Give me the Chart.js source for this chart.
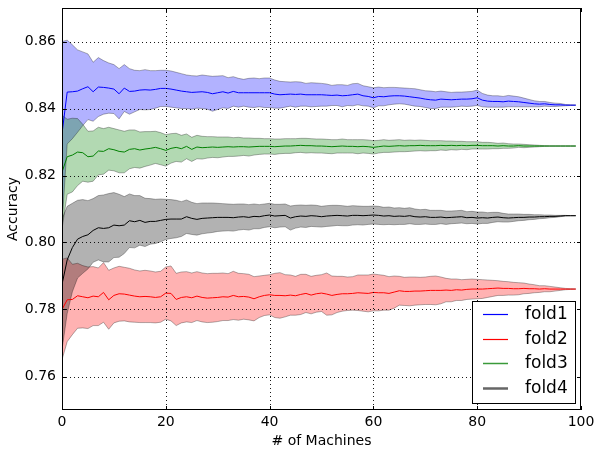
<!DOCTYPE html>
<html>
<head>
<meta charset="utf-8">
<script src="https://cdn.jsdelivr.net/npm/chart.js@4"></script>
<style>
html,body{margin:0;padding:0;background:#fff;}
#wrap{width:596px;height:451px;position:relative;}
</style>
</head>
<body>
<div id="wrap"><canvas id="c" width="596" height="451"></canvas></div>
<script>
// ---------- data ----------
const machines = Array.from({length: 100}, (_, i) => i);
const xTickValues = [0, 20, 40, 60, 80, 100];
const yTickValues = [0.76, 0.78, 0.80, 0.82, 0.84, 0.86];
const seriesNames = ['fold1', 'fold2', 'fold3', 'fold4'];

const fold1Mean = [
0.8325,0.8449,0.8450,0.8452,0.8459,0.8465,0.8450,0.8464,0.8463,0.8461,
0.8458,0.8444,0.8461,0.8451,0.8452,0.8455,0.8456,0.8455,0.8457,0.8460,
0.8460,0.8458,0.8455,0.8452,0.8450,0.8448,0.8449,0.8450,0.8448,0.8444,
0.8447,0.8450,0.8446,0.8451,0.8447,0.8447,0.8447,0.8447,0.8447,0.8447,
0.8447,0.8443,0.8441,0.8442,0.8443,0.8442,0.8443,0.8441,0.8441,0.8441,
0.8441,0.8440,0.8439,0.8440,0.8438,0.8439,0.8441,0.8443,0.8438,0.8436,
0.8432,0.8436,0.8435,0.8437,0.8438,0.8438,0.8437,0.8435,0.8433,0.8431,
0.8428,0.8426,0.8425,0.8428,0.8427,0.8426,0.8427,0.8428,0.8428,0.8429,
0.8432,0.8425,0.8422,0.8421,0.8421,0.8420,0.8422,0.8421,0.8420,0.8418,
0.8416,0.8414,0.8413,0.8414,0.8412,0.8411,0.8411,0.8410,0.8410,0.8410];
const fold1Std = [
0.0275,0.0155,0.0140,0.0123,0.0110,0.0098,0.0088,0.0088,0.0080,0.0075,
0.0073,0.0075,0.0070,0.0068,0.0062,0.0058,0.0060,0.0058,0.0056,0.0054,
0.0054,0.0054,0.0053,0.0052,0.0050,0.0050,0.0048,0.0050,0.0050,0.0052,
0.0050,0.0048,0.0046,0.0044,0.0043,0.0040,0.0043,0.0044,0.0042,0.0044,
0.0044,0.0042,0.0040,0.0038,0.0036,0.0038,0.0036,0.0034,0.0036,0.0035,
0.0034,0.0033,0.0030,0.0031,0.0033,0.0030,0.0033,0.0032,0.0030,0.0029,
0.0030,0.0028,0.0027,0.0026,0.0025,0.0024,0.0024,0.0025,0.0026,0.0025,
0.0025,0.0026,0.0025,0.0024,0.0023,0.0022,0.0022,0.0021,0.0022,0.0022,
0.0023,0.0020,0.0018,0.0017,0.0017,0.0016,0.0017,0.0016,0.0015,0.0013,
0.0011,0.0009,0.0008,0.0007,0.0006,0.0005,0.0004,0.0002,0.0001,0.0000];

const fold2Mean = [
0.7800,0.7829,0.7830,0.7841,0.7838,0.7835,0.7840,0.7838,0.7851,0.7829,
0.7842,0.7847,0.7846,0.7843,0.7840,0.7838,0.7839,0.7838,0.7836,0.7838,
0.7849,0.7848,0.7830,0.7836,0.7838,0.7835,0.7840,0.7836,0.7834,0.7835,
0.7836,0.7838,0.7837,0.7842,0.7838,0.7839,0.7837,0.7832,0.7838,0.7842,
0.7844,0.7842,0.7842,0.7841,0.7843,0.7841,0.7845,0.7848,0.7843,0.7847,
0.7849,0.7846,0.7842,0.7845,0.7847,0.7847,0.7848,0.7850,0.7849,0.7848,
0.7851,0.7850,0.7850,0.7848,0.7852,0.7856,0.7854,0.7854,0.7855,0.7855,
0.7856,0.7857,0.7857,0.7857,0.7858,0.7857,0.7859,0.7858,0.7860,0.7861,
0.7861,0.7861,0.7862,0.7863,0.7864,0.7863,0.7863,0.7862,0.7862,0.7863,
0.7862,0.7862,0.7861,0.7862,0.7861,0.7861,0.7861,0.7861,0.7861,0.7861];
const fold2Std = [
0.0150,0.0125,0.0105,0.0097,0.0093,0.0092,0.0088,0.0086,0.0089,0.0088,
0.0082,0.0082,0.0080,0.0080,0.0078,0.0077,0.0078,0.0077,0.0076,0.0076,
0.0078,0.0082,0.0078,0.0076,0.0075,0.0074,0.0073,0.0073,0.0073,0.0073,
0.0072,0.0071,0.0070,0.0072,0.0070,0.0068,0.0068,0.0066,0.0062,0.0060,
0.0060,0.0066,0.0068,0.0063,0.0060,0.0058,0.0060,0.0057,0.0056,0.0055,
0.0055,0.0063,0.0058,0.0054,0.0052,0.0050,0.0050,0.0053,0.0054,0.0055,
0.0055,0.0054,0.0052,0.0050,0.0048,0.0043,0.0042,0.0043,0.0042,0.0041,
0.0041,0.0042,0.0043,0.0040,0.0035,0.0034,0.0032,0.0031,0.0030,0.0030,
0.0029,0.0028,0.0026,0.0024,0.0022,0.0021,0.0020,0.0019,0.0018,0.0016,
0.0014,0.0012,0.0010,0.0009,0.0008,0.0006,0.0004,0.0002,0.0001,0.0000];

const fold3Mean = [
0.8210,0.8256,0.8261,0.8270,0.8268,0.8256,0.8258,0.8273,0.8272,0.8280,
0.8277,0.8272,0.8270,0.8278,0.8280,0.8276,0.8279,0.8281,0.8284,0.8280,
0.8275,0.8281,0.8284,0.8280,0.8287,0.8278,0.8285,0.8283,0.8284,0.8285,
0.8284,0.8285,0.8286,0.8285,0.8286,0.8286,0.8285,0.8286,0.8287,0.8287,
0.8287,0.8286,0.8287,0.8288,0.8288,0.8289,0.8290,0.8289,0.8289,0.8288,
0.8288,0.8287,0.8286,0.8287,0.8288,0.8287,0.8287,0.8286,0.8287,0.8286,
0.8284,0.8286,0.8288,0.8287,0.8288,0.8289,0.8288,0.8289,0.8289,0.8290,
0.8289,0.8289,0.8289,0.8290,0.8289,0.8290,0.8289,0.8290,0.8289,0.8290,
0.8290,0.8289,0.8289,0.8289,0.8288,0.8289,0.8288,0.8288,0.8289,0.8288,
0.8288,0.8288,0.8288,0.8288,0.8288,0.8288,0.8288,0.8288,0.8288,0.8288];
const fold3Std = [
0.0170,0.0112,0.0110,0.0100,0.0085,0.0076,0.0075,0.0071,0.0068,0.0064,
0.0063,0.0064,0.0062,0.0058,0.0056,0.0054,0.0052,0.0050,0.0048,0.0048,
0.0047,0.0044,0.0042,0.0040,0.0037,0.0036,0.0035,0.0034,0.0032,0.0031,
0.0031,0.0030,0.0029,0.0028,0.0028,0.0026,0.0027,0.0025,0.0024,0.0023,
0.0023,0.0023,0.0022,0.0022,0.0022,0.0021,0.0021,0.0022,0.0021,0.0021,
0.0021,0.0021,0.0021,0.0020,0.0021,0.0020,0.0020,0.0021,0.0020,0.0020,
0.0020,0.0019,0.0019,0.0018,0.0018,0.0018,0.0017,0.0017,0.0016,0.0016,
0.0016,0.0015,0.0015,0.0014,0.0014,0.0013,0.0013,0.0012,0.0012,0.0011,
0.0011,0.0010,0.0010,0.0009,0.0008,0.0008,0.0007,0.0006,0.0005,0.0005,
0.0004,0.0003,0.0002,0.0001,0.0000,0.0000,0.0000,0.0000,0.0000,0.0000];

const fold4Mean = [
0.7875,0.7948,0.7985,0.8010,0.8018,0.8023,0.8036,0.8044,0.8042,0.8044,
0.8052,0.8050,0.8052,0.8065,0.8062,0.8066,0.8060,0.8063,0.8063,0.8066,
0.8069,0.8070,0.8070,0.8070,0.8077,0.8072,0.8069,0.8072,0.8073,0.8074,
0.8075,0.8075,0.8075,0.8074,0.8076,0.8077,0.8075,0.8078,0.8077,0.8080,
0.8082,0.8079,0.8080,0.8081,0.8073,0.8077,0.8079,0.8078,0.8080,0.8079,
0.8077,0.8079,0.8080,0.8081,0.8080,0.8079,0.8081,0.8081,0.8080,0.8081,
0.8082,0.8081,0.8079,0.8080,0.8078,0.8079,0.8078,0.8080,0.8077,0.8076,
0.8077,0.8075,0.8075,0.8076,0.8074,0.8075,0.8076,0.8077,0.8074,0.8075,
0.8073,0.8074,0.8073,0.8075,0.8076,0.8074,0.8073,0.8074,0.8075,0.8075,
0.8076,0.8076,0.8077,0.8077,0.8078,0.8078,0.8079,0.8080,0.8080,0.8080];
const fold4Std = [
0.0195,0.0160,0.0132,0.0116,0.0110,0.0102,0.0095,0.0096,0.0100,0.0102,
0.0097,0.0094,0.0085,0.0080,0.0078,0.0074,0.0072,0.0068,0.0066,0.0064,
0.0060,0.0058,0.0056,0.0052,0.0050,0.0048,0.0047,0.0046,0.0045,0.0044,
0.0042,0.0041,0.0040,0.0040,0.0039,0.0038,0.0038,0.0037,0.0036,0.0035,
0.0035,0.0035,0.0034,0.0034,0.0036,0.0034,0.0033,0.0033,0.0032,0.0032,
0.0031,0.0031,0.0031,0.0030,0.0030,0.0029,0.0029,0.0028,0.0028,0.0027,
0.0027,0.0027,0.0026,0.0026,0.0025,0.0025,0.0024,0.0024,0.0023,0.0022,
0.0022,0.0021,0.0021,0.0020,0.0020,0.0019,0.0019,0.0019,0.0018,0.0018,
0.0018,0.0017,0.0016,0.0015,0.0014,0.0013,0.0012,0.0011,0.0010,0.0009,
0.0008,0.0007,0.0006,0.0005,0.0004,0.0003,0.0002,0.0001,0.0000,0.0000];

// ---------- styles ----------
const lineColors = ['#0000ff', '#ff0000', '#008000', '#000000'];
const bandColors = ['rgba(0,0,255,0.3)', 'rgba(255,0,0,0.3)', 'rgba(0,128,0,0.3)', 'rgba(0,0,0,0.3)'];
const legendColors = ['#0000ff', '#ff0000', '#3a9a3a', '#666666'];
const legendWidths = [1.2, 1.2, 1.5, 2.5];
const FONT = 'DejaVu Sans';

const means = [fold1Mean, fold2Mean, fold3Mean, fold4Mean];
const stds = [fold1Std, fold2Std, fold3Std, fold4Std];

const datasets = [];
means.forEach((m, k) => {
  const s = stds[k];
  const ord = 10 - k;
  datasets.push({
    label: seriesNames[k] + ' lower',
    data: machines.map((x, i) => ({x: x, y: m[i] - s[i]})),
    borderColor: 'rgba(0,0,0,0.3)', borderWidth: 1, pointRadius: 0,
    fill: false, order: ord, tension: 0
  });
  datasets.push({
    label: seriesNames[k] + ' upper',
    data: machines.map((x, i) => ({x: x, y: m[i] + s[i]})),
    borderColor: 'rgba(0,0,0,0.3)', borderWidth: 1, pointRadius: 0,
    backgroundColor: bandColors[k],
    fill: '-1', order: ord, tension: 0
  });
});
means.forEach((m, k) => {
  datasets.push({
    label: seriesNames[k],
    data: machines.map((x, i) => ({x: x, y: m[i]})),
    borderColor: lineColors[k], borderWidth: 1, pointRadius: 0,
    fill: false, order: 4 - k, tension: 0
  });
});

const framePlugin = {
  id: 'frame',
  afterDatasetsDraw(chart) {
    const {ctx, chartArea: a, scales} = chart;
    ctx.save();
    ctx.strokeStyle = 'rgba(0,0,0,0.9)';
    ctx.lineWidth = 1;
    ctx.setLineDash([1, 3]);
    ctx.beginPath();
    xTickValues.forEach(v => {
      const px = Math.round(scales.x.getPixelForValue(v)) + 0.5;
      if (px < a.left + 2 || px > a.right - 2) return;
      ctx.moveTo(px, a.top); ctx.lineTo(px, a.bottom);
    });
    yTickValues.forEach(v => {
      const py = Math.round(scales.y.getPixelForValue(v)) + 0.5;
      if (py < a.top + 2 || py > a.bottom - 2) return;
      ctx.moveTo(a.left, py); ctx.lineTo(a.right, py);
    });
    ctx.stroke();
    ctx.restore();
  },
  afterDraw(chart) {
    const {ctx, chartArea: a, scales} = chart;
    ctx.save();
    ctx.strokeStyle = '#000';
    ctx.lineWidth = 1;
    ctx.setLineDash([]);
    ctx.strokeRect(Math.round(a.left) + 0.5, Math.round(a.top) + 0.5,
                   Math.round(a.right - a.left) - 1, Math.round(a.bottom - a.top) - 1);
    ctx.beginPath();
    xTickValues.forEach(v => {
      const px = Math.round(scales.x.getPixelForValue(v)) + 0.5;
      ctx.moveTo(px, a.bottom); ctx.lineTo(px, a.bottom - 4);
      ctx.moveTo(px, a.top); ctx.lineTo(px, a.top + 4);
    });
    yTickValues.forEach(v => {
      const py = Math.round(scales.y.getPixelForValue(v)) + 0.5;
      ctx.moveTo(a.left, py); ctx.lineTo(a.left + 4, py);
      ctx.moveTo(a.right, py); ctx.lineTo(a.right - 4, py);
    });
    ctx.stroke();
    // legend
    const bx = 472.5, by = 301.5, bw = 103, bh = 102;
    ctx.fillStyle = '#fff';
    ctx.fillRect(bx, by, bw, bh);
    ctx.strokeStyle = '#000';
    ctx.lineWidth = 1;
    ctx.strokeRect(bx, by, bw, bh);
    const rows = [314, 339, 363, 388];
    ctx.font = '17px "' + FONT + '"';
    ctx.textBaseline = 'middle';
    ctx.textAlign = 'left';
    seriesNames.forEach((n, k) => {
      ctx.beginPath();
      ctx.strokeStyle = legendColors[k];
      ctx.lineWidth = legendWidths[k];
      ctx.moveTo(483, rows[k] + 0.5); ctx.lineTo(508, rows[k] + 0.5);
      ctx.stroke();
      ctx.fillStyle = '#000';
      ctx.fillText(n, 525, rows[k] + 1);
    });
    ctx.restore();
  }
};

Chart.defaults.font.family = FONT;
Chart.defaults.color = '#000';

new Chart(document.getElementById('c'), {
  type: 'line',
  data: {datasets: datasets},
  plugins: [framePlugin],
  options: {
    responsive: false,
    animation: false,
    devicePixelRatio: 1,
    layout: {padding: {top: 8, right: 15, left: 0, bottom: 0}},
    plugins: {
      legend: {display: false},
      tooltip: {enabled: false},
      filler: {drawTime: 'beforeDatasetsDraw'}
    },
    scales: {
      x: {
        type: 'linear', min: 0, max: 100,
        afterBuildTicks: s => { s.ticks = xTickValues.map(v => ({value: v})); },
        afterFit: s => { s.height = 41; s.paddingLeft = 0; s.paddingRight = 0; },
        ticks: {font: {size: 14}, color: '#000', padding: 4, maxRotation: 0,
                callback: v => String(v)},
        grid: {display: false, drawTicks: false},
        border: {display: false},
        title: {display: true, text: '# of Machines', font: {size: 14}, color: '#000', padding: {top: 0, bottom: 1}}
      },
      y: {
        type: 'linear', min: 0.75, max: 0.87,
        afterBuildTicks: s => { s.ticks = yTickValues.map(v => ({value: v})); },
        afterFit: s => { s.width = 62; s.paddingTop = 0; s.paddingBottom = 0; },
        ticks: {font: {size: 14}, color: '#000', padding: 6,
                callback: v => Number(v).toFixed(2)},
        grid: {display: false, drawTicks: false},
        border: {display: false},
        title: {display: true, text: 'Accuracy', font: {size: 14}, color: '#000', padding: {top: 5, bottom: 0}}
      }
    }
  }
});
</script>
</body>
</html>
